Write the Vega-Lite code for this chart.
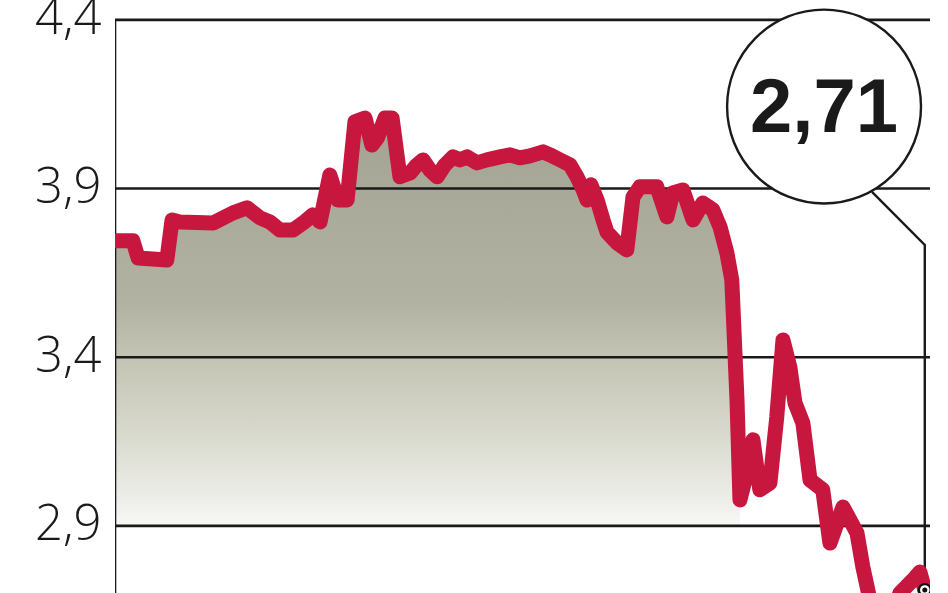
{
  "$schema": "https://vega.github.io/schema/vega-lite/v6.json",
  "autosize": "none",
  "width": 815,
  "height": 593,
  "padding": {"left": 115, "right": 18, "top": 0, "bottom": 0},
  "background": "white",
  "config": {"view": {"stroke": null}},
  "datasets": {
    "series": [
      {"t": 0, "v": 3.745}, {"t": 5.5, "v": 3.745}, {"t": 7.1, "v": 3.694}, {"t": 15.9, "v": 3.688},
      {"t": 17.5, "v": 3.807}, {"t": 19.9, "v": 3.801}, {"t": 30.1, "v": 3.798}, {"t": 36.2, "v": 3.828},
      {"t": 40.5, "v": 3.843}, {"t": 44.5, "v": 3.813}, {"t": 47.5, "v": 3.801}, {"t": 50.6, "v": 3.777},
      {"t": 54.6, "v": 3.777}, {"t": 57.7, "v": 3.798}, {"t": 60.7, "v": 3.822}, {"t": 62.9, "v": 3.801},
      {"t": 65.9, "v": 3.94}, {"t": 68.4, "v": 3.866}, {"t": 71.2, "v": 3.866},
      {"t": 73.6, "v": 4.098}, {"t": 76.7, "v": 4.109}, {"t": 78.8, "v": 4.029}, {"t": 80.5, "v": 4.05},
      {"t": 82.8, "v": 4.109}, {"t": 85, "v": 4.109}, {"t": 87.4, "v": 3.935}, {"t": 90.5, "v": 3.946},
      {"t": 92.6, "v": 3.97}, {"t": 94.5, "v": 3.985}, {"t": 96.6, "v": 3.955}, {"t": 98.8, "v": 3.935},
      {"t": 101.2, "v": 3.97}, {"t": 103.7, "v": 3.994}, {"t": 105.8, "v": 3.985}, {"t": 108, "v": 3.994},
      {"t": 111, "v": 3.976}, {"t": 114.1, "v": 3.985}, {"t": 118.1, "v": 3.994}, {"t": 121.2, "v": 4.0},
      {"t": 124.2, "v": 3.991}, {"t": 127.3, "v": 3.997}, {"t": 131.3, "v": 4.009}, {"t": 133.4, "v": 4.0},
      {"t": 136.5, "v": 3.985}, {"t": 139.6, "v": 3.97}, {"t": 141.7, "v": 3.935}, {"t": 143.6, "v": 3.896},
      {"t": 144.8, "v": 3.866}, {"t": 146, "v": 3.911}, {"t": 147.9, "v": 3.866}, {"t": 149.7, "v": 3.807},
      {"t": 150.9, "v": 3.771}, {"t": 154, "v": 3.739}, {"t": 157, "v": 3.718}, {"t": 158.9, "v": 3.875},
      {"t": 161, "v": 3.905}, {"t": 166.2, "v": 3.905}, {"t": 169.3, "v": 3.816}, {"t": 171.1, "v": 3.887},
      {"t": 174.2, "v": 3.896}, {"t": 177.3, "v": 3.807}, {"t": 180.3, "v": 3.857}, {"t": 183.4, "v": 3.837},
      {"t": 185.6, "v": 3.786}, {"t": 187.7, "v": 3.709}, {"t": 189.2, "v": 3.629}, {"t": 190.8, "v": 3.273},
      {"t": 191.7, "v": 2.977}, {"t": 193.8, "v": 3.057}, {"t": 195.7, "v": 3.155}, {"t": 197.8, "v": 3.007},
      {"t": 200.9, "v": 3.027}, {"t": 203, "v": 3.223}, {"t": 204.9, "v": 3.451}, {"t": 207, "v": 3.371},
      {"t": 208.6, "v": 3.264}, {"t": 211, "v": 3.205}, {"t": 213.2, "v": 3.036}, {"t": 217.1, "v": 3.007},
      {"t": 219.3, "v": 2.849}, {"t": 223.3, "v": 2.956}, {"t": 227.6, "v": 2.879}, {"t": 229.4, "v": 2.778},
      {"t": 231.6, "v": 2.68}, {"t": 234.7, "v": 2.62}, {"t": 238.6, "v": 2.64}, {"t": 240.8, "v": 2.701},
      {"t": 244.8, "v": 2.74}, {"t": 246.9, "v": 2.763}, {"t": 248.4, "v": 2.71}
    ],
    "gridlines": [
      {"t": 0, "t2": 250, "v": 2.9},
      {"t": 0, "t2": 250, "v": 3.4},
      {"t": 0, "t2": 250, "v": 3.9},
      {"t": 0, "t2": 250, "v": 4.4}
    ],
    "leftline": [{"t": 0, "v": 4.4, "v2": 2.6}],
    "callout": [
      {"t": 232.2, "v": 3.89, "k": 1},
      {"t": 248.4, "v": 3.733, "k": 2},
      {"t": 248.4, "v": 2.6, "k": 3}
    ],
    "bubble": [{"t": 217.5, "v": 4.143, "label": "2,71", "base": 4.068}],
    "last": [{"t": 248.4, "v": 2.71}]
  },
  "encoding": {
    "x": {"field": "t", "type": "quantitative", "scale": {"domain": [0, 250], "nice": false, "zero": false}, "axis": null},
    "y": {
      "field": "v",
      "type": "quantitative",
      "scale": {"domain": [2.701, 4.459], "nice": false, "zero": false},
      "axis": {
        "values": [2.9, 3.4, 3.9, 4.4],
        "format": ".1f",
        "labelExpr": "replace(datum.label, '.', ',')",
        "domain": false,
        "ticks": false,
        "grid": false,
        "title": null,
        "labelFont": "Open Sans",
        "labelFontWeight": 300,
        "labelFontSize": 49,
        "labelColor": "#1a1a1a",
        "labelPadding": 14,
        "labelBaseline": "alphabetic",
        "labelOffset": 14
      }
    }
  },
  "layer": [
    {
      "data": {"name": "series"},
      "transform": [{"filter": "datum.t <= 191.7"}],
      "mark": {
        "type": "area",
        "clip": true,
        "fill": {
          "gradient": "linear",
          "x1": 0, "y1": 0, "x2": 0, "y2": 1,
          "stops": [
            {"offset": 0, "color": "#a2a393"},
            {"offset": 0.45, "color": "#b1b2a2"},
            {"offset": 0.59, "color": "#c3c4b3"},
            {"offset": 0.77, "color": "#d8d9cd"},
            {"offset": 0.94, "color": "#eeeeea"},
            {"offset": 1, "color": "#f8f8f6"}
          ]
        }
      },
      "encoding": {"y2": {"datum": 2.9}}
    },
    {
      "data": {"name": "gridlines"},
      "mark": {"type": "rule", "color": "#1a1a1a", "strokeWidth": 2.6},
      "encoding": {"x2": {"field": "t2"}}
    },
    {
      "data": {"name": "leftline"},
      "mark": {"type": "rule", "color": "#1a1a1a", "strokeWidth": 2.6, "clip": true},
      "encoding": {"y2": {"field": "v2"}}
    },
    {
      "data": {"name": "callout"},
      "mark": {"type": "line", "color": "#1a1a1a", "strokeWidth": 2.4, "clip": true},
      "encoding": {"order": {"field": "k"}}
    },
    {
      "data": {"name": "series"},
      "mark": {"type": "line", "color": "#c8173f", "strokeWidth": 15, "strokeJoin": "round", "strokeCap": "round", "clip": true},
      "encoding": {}
    },
    {
      "data": {"name": "bubble"},
      "mark": {"type": "point", "shape": "circle", "size": 37600, "filled": true, "fill": "white", "stroke": "#1a1a1a", "strokeWidth": 2.4, "opacity": 1}
    },
    {
      "data": {"name": "bubble"},
      "mark": {"type": "text", "font": "Liberation Sans", "fontWeight": "bold", "fontSize": 76, "color": "#1a1a1a", "align": "center", "baseline": "alphabetic"},
      "encoding": {"y": {"field": "base", "type": "quantitative"}, "text": {"field": "label"}}
    },
    {
      "data": {"name": "last"},
      "mark": {"type": "point", "shape": "circle", "size": 200, "filled": true, "color": "#111111", "opacity": 1, "clip": true}
    },
    {
      "data": {"name": "last"},
      "mark": {"type": "point", "shape": "circle", "size": 90, "filled": true, "color": "white", "opacity": 1, "clip": true}
    },
    {
      "data": {"name": "last"},
      "mark": {"type": "point", "shape": "circle", "size": 25, "filled": true, "color": "#111111", "opacity": 1, "clip": true}
    }
  ]
}
